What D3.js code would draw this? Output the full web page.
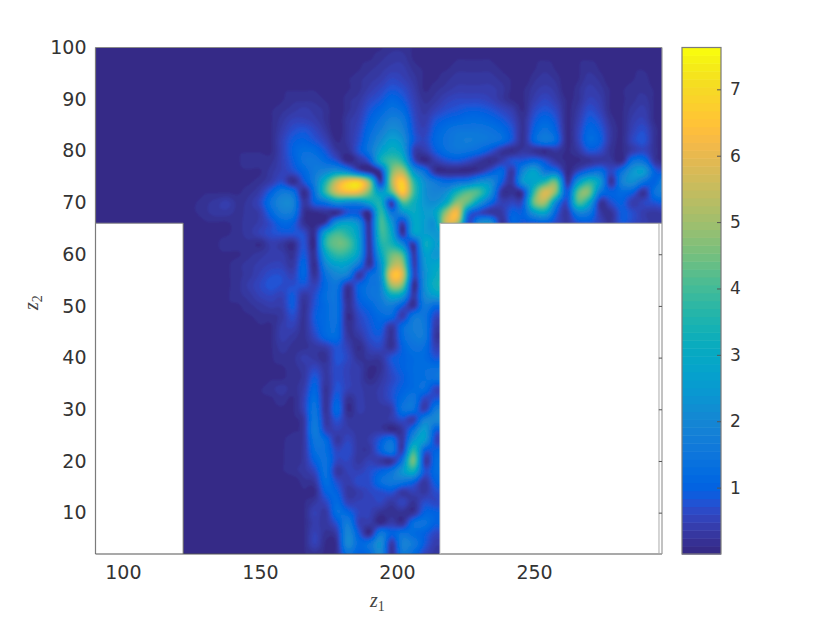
<!DOCTYPE html>
<html><head><meta charset="utf-8">
<script src="https://cdnjs.cloudflare.com/ajax/libs/d3/7.8.5/d3.min.js"></script>
<style>html,body{margin:0;padding:0;background:#fff}svg{display:block}</style></head>
<body><svg id="c" width="830" height="623"></svg>
<script>
// z1 grid starts at 90 with step 4; rows start at z1 = 122 (everything left of it is ~0)
const z1Start = 90, z1Step = 4, z1Lead = 8, z1Count = 53;
const z2Start = 100, z2Step = 2;
const xTicks = [100,150,200,250];
const yTicks = [10,20,30,40,50,60,70,80,90,100];
const cbTicks = [1,2,3,4,5,6,7];
const holeLeft = [90,122], holeRight = [215.7,295.6], holeTop = 66, z2Min = 2, z1Max = 296.7, cMax = 7.63;
// values in tenths, z2 = 100, 98, ... 2
const upperRows = [
[0,0,0,0,0,0,0,0,0,0,0,0,0,0,0,0,0,1,1,2,2,1,0,0,0,0,0,0,0,0,0,0,0,1,1,0,0,1,1,0,0,1,1,0,0],
[0,0,0,0,0,0,0,0,0,0,0,0,0,0,0,0,1,1,2,3,3,1,0,0,0,1,1,1,1,0,0,0,1,1,1,0,1,1,1,0,0,1,1,0,0],
[0,0,0,0,0,0,0,0,0,0,0,0,0,0,0,0,1,2,3,4,4,2,1,1,1,2,2,2,2,1,0,0,1,2,1,0,1,2,1,0,0,1,1,0,0],
[0,0,0,0,0,0,0,0,0,0,0,0,0,0,0,1,2,3,4,6,5,3,1,1,2,3,3,3,3,2,1,0,2,3,2,0,1,3,2,0,0,1,2,0,0],
[0,0,0,0,0,0,0,0,0,1,1,1,1,0,0,1,2,4,6,8,7,4,1,2,3,4,4,4,4,3,1,1,3,4,3,0,2,4,3,1,1,2,2,1,0],
[0,0,0,0,0,0,0,0,0,1,2,2,2,1,0,2,3,6,8,11,9,5,2,3,5,6,6,6,5,3,1,1,4,6,4,1,2,5,4,1,1,2,3,1,0],
[0,0,0,0,0,0,0,0,1,2,3,4,3,2,0,2,4,8,11,14,12,6,3,5,7,8,9,9,8,6,4,1,6,8,6,1,3,7,5,1,1,3,4,1,0],
[0,0,0,0,0,0,0,0,1,3,5,5,4,2,0,3,5,10,14,18,16,7,4,8,10,11,12,12,11,9,6,2,8,11,8,1,4,9,7,2,1,4,5,1,0],
[0,0,0,0,0,0,0,0,1,4,7,8,6,3,0,3,6,12,17,22,19,8,5,10,13,15,15,15,14,12,8,2,10,14,10,1,5,11,9,3,1,5,7,2,0],
[0,0,0,0,0,0,0,0,1,5,9,10,8,5,1,3,7,14,21,27,23,9,6,11,14,16,17,16,15,13,8,2,11,16,12,1,5,12,10,3,1,6,8,2,0],
[0,0,0,0,0,1,1,1,1,5,10,13,12,8,3,2,8,15,26,32,27,5,4,9,13,15,14,12,8,3,1,3,2,1,3,1,3,8,7,2,1,4,6,2,0],
[0,0,0,0,0,1,2,2,2,5,9,14,15,12,8,1,3,8,30,40,36,8,1,4,7,8,6,3,1,4,8,9,12,8,3,1,1,2,3,3,1,14,14,3,1],
[0,0,0,0,0,1,1,1,3,5,7,11,16,20,24,20,8,1,3,45,52,25,14,2,1,1,1,3,8,12,3,20,28,16,14,1,6,12,14,6,14,24,26,10,8],
[0,0,0,0,0,1,1,2,4,7,1,8,17,35,55,66,68,48,3,50,67,38,22,16,12,14,16,22,22,10,3,24,28,36,44,2,24,36,26,2,18,22,14,10,20],
[0,0,1,1,1,1,2,4,10,16,14,1,14,38,56,62,60,44,25,40,66,40,23,19,22,34,42,40,24,3,2,4,38,58,46,8,42,46,16,10,12,10,2,14,18],
[0,1,2,3,4,2,3,6,14,20,19,3,10,14,22,20,20,28,34,3,40,33,24,22,30,48,42,25,12,5,6,8,44,50,20,6,40,30,3,7,10,4,6,8,10],
[0,1,2,3,3,2,3,4,11,17,16,2,1,2,1,8,8,1,38,15,22,30,26,28,50,62,14,6,3,3,10,10,24,28,10,3,18,16,4,2,9,7,4,3,4],
[0,0,1,1,1,2,3,4,7,11,10,2,1,4,24,28,22,2,40,25,4,28,26,24,55,50,6,20,22,2,10,8,8,9,6,3,7,8,5,2,8,6,4,3,3]
];
const lowerRows = [
[0,0,1,1,1,2,3,5,7,8,8,7,2,30,40,36,26,2,38,30,2,26,26,24,24],
[0,0,1,1,2,2,2,1,4,3,1,8,1,36,44,42,28,2,34,34,20,3,30,26,26],
[0,0,0,1,1,1,2,3,4,4,2,9,2,28,38,36,26,2,28,44,40,3,26,24,24],
[0,0,0,1,1,2,3,4,5,5,3,11,1,20,27,26,16,2,22,50,50,4,24,28,28],
[0,0,0,1,1,2,3,5,7,7,5,11,2,14,20,18,3,12,20,62,58,6,22,30,30],
[0,0,0,1,1,2,4,6,8,7,7,8,5,12,15,3,10,14,18,50,46,1,22,32,32],
[0,0,0,0,1,2,3,5,6,5,9,3,7,13,14,1,10,14,17,30,26,3,20,26,26],
[0,0,0,0,1,1,2,3,4,4,9,2,8,12,14,2,8,11,15,17,9,2,16,12,12],
[0,0,0,0,0,1,1,2,2,3,7,2,9,12,14,1,6,9,12,12,4,15,15,6,6],
[0,0,0,0,1,1,0,1,1,4,5,2,8,12,13,2,5,8,10,3,12,17,16,4,4],
[0,0,0,1,1,1,0,0,1,4,3,2,6,11,12,3,3,7,8,2,12,16,16,3,3],
[0,0,0,1,1,1,0,0,1,3,2,2,3,4,8,5,1,5,6,2,10,14,13,5,5],
[0,0,0,1,1,1,0,0,1,2,2,4,3,2,8,6,2,3,3,8,10,12,12,8,8],
[0,0,0,1,1,1,0,0,1,1,2,3,6,3,7,5,4,1,2,7,10,12,13,13,13],
[0,0,1,1,1,1,0,0,1,1,2,3,9,3,7,5,4,1,3,6,9,12,13,14,14],
[0,0,1,1,1,1,0,1,2,3,2,4,11,2,8,5,4,3,4,7,10,12,13,6,6],
[0,0,1,1,1,1,1,1,1,2,1,5,13,2,10,2,4,3,4,7,12,15,6,8,8],
[0,0,1,1,1,0,1,1,1,1,1,5,15,2,12,1,4,3,3,4,14,14,4,16,16],
[0,0,1,1,1,0,1,1,1,1,1,3,16,3,8,3,3,3,3,4,7,4,18,20,20],
[0,0,0,1,1,0,0,1,1,1,1,3,17,5,5,4,3,3,3,1,3,14,26,10,10],
[0,0,0,1,1,0,0,0,1,1,2,3,15,12,3,6,3,4,9,14,3,24,26,6,6],
[0,0,0,1,1,0,0,0,0,1,2,3,13,13,6,7,3,3,10,16,4,38,10,10,10],
[0,0,0,0,1,0,0,0,0,1,2,3,10,14,6,6,3,5,3,2,15,46,4,12,12],
[0,0,0,0,0,0,0,0,0,1,2,3,6,14,3,5,5,7,10,14,24,32,8,12,12],
[0,0,0,0,0,0,0,0,0,0,0,2,3,13,7,4,7,7,13,16,15,11,3,10,10],
[0,0,0,0,0,0,0,0,0,0,0,1,1,10,10,3,4,6,7,8,3,5,3,7,7],
[0,0,0,0,0,0,0,0,0,0,0,1,3,6,12,5,5,5,6,3,6,2,7,6,6],
[0,0,0,0,0,0,0,0,0,0,0,1,5,3,13,11,6,5,2,2,2,2,10,10,8],
[0,0,0,0,0,0,0,0,0,0,0,1,4,3,8,17,5,4,1,4,2,13,14,10,10],
[0,0,0,0,0,0,0,0,0,0,0,1,5,2,4,20,9,1,16,10,14,12,10,6,6],
[0,0,0,0,0,0,0,0,0,0,0,1,5,1,2,21,12,14,22,3,18,16,9,4,4],
[0,0,0,0,0,0,0,0,0,0,0,1,2,1,2,14,10,12,20,2,16,12,6,3,3]
];
const parula = [[.2081,.1663,.5292],[.2116,.1898,.5777],[.2123,.2138,.6270],[.2081,.2386,.6771],[.1959,.2645,.7279],[.1707,.2919,.7792],[.1253,.3242,.8303],[.0591,.3598,.8683],[.0117,.3875,.8820],[.0060,.4086,.8828],[.0165,.4266,.8786],[.0329,.4430,.8720],[.0498,.4586,.8641],[.0629,.4737,.8554],[.0723,.4887,.8467],[.0779,.5040,.8384],[.0793,.5200,.8312],[.0749,.5375,.8263],[.0641,.5570,.8240],[.0488,.5772,.8228],[.0343,.5966,.8199],[.0265,.6137,.8135],[.0239,.6287,.8038],[.0231,.6418,.7913],[.0228,.6535,.7768],[.0267,.6642,.7607],[.0384,.6743,.7436],[.0590,.6838,.7254],[.0843,.6928,.7062],[.1133,.7015,.6859],[.1453,.7098,.6646],[.1801,.7177,.6424],[.2178,.7250,.6193],[.2586,.7317,.5954],[.3022,.7376,.5712],[.3482,.7424,.5473],[.3953,.7459,.5244],[.4420,.7481,.5033],[.4871,.7491,.4840],[.5300,.7491,.4661],[.5709,.7485,.4494],[.6099,.7473,.4337],[.6473,.7456,.4188],[.6834,.7435,.4044],[.7184,.7411,.3905],[.7525,.7384,.3768],[.7858,.7356,.3633],[.8185,.7327,.3498],[.8507,.7299,.3360],[.8824,.7274,.3217],[.9139,.7258,.3063],[.9450,.7261,.2886],[.9739,.7314,.2666],[.9938,.7455,.2403],[.9990,.7653,.2164],[.9955,.7861,.1967],[.9880,.8066,.1794],[.9789,.8271,.1633],[.9697,.8481,.1475],[.9626,.8705,.1309],[.9589,.8949,.1132],[.9598,.9218,.0948],[.9661,.9514,.0755],[.9763,.9831,.0538]];
const colors = parula.map(c => d3.rgb(c[0]*255,c[1]*255,c[2]*255).formatHex());

const svg = d3.select('#c');
const x = d3.scaleLinear().domain([90,z1Max]).range([95.5,662]);
const y = d3.scaleLinear().domain([z2Min,100]).range([554,47.5]);
const cY = d3.scaleLinear().domain([0,cMax]).range([554,47.5]);
const cBand = d3.scaleQuantize().domain([0,cMax]).range(colors);

const allRows = upperRows.concat(lowerRows);
const nRows = allRows.length;
const grid = allRows.map(r => d3.range(z1Count).map(i => { const k = i - z1Lead; return k >= 0 && k < r.length ? r[k]/10 : 0; }));

// smooth shading between the grid nodes (Catmull-Rom), only for drawing
const up = 4;
const cr = (a,b,c,d,t) => b + .5*t*(c-a + t*(2*a-5*b+4*c-d + t*(3*(b-c)+d-a)));
const at = (r,c) => grid[Math.max(0,Math.min(nRows-1,r))][Math.max(0,Math.min(z1Count-1,c))];
const W = (z1Count-1)*up+1, H = (nRows-1)*up+1;
const field = new Float64Array(W*H);
for (let j=0;j<H;j++) for (let i=0;i<W;i++) {
  const r0=Math.floor(j/up), c0=Math.floor(i/up), tr=j/up-r0, tc=i/up-c0;
  const col=[-1,0,1,2].map(dr=>cr(at(r0+dr,c0-1),at(r0+dr,c0),at(r0+dr,c0+1),at(r0+dr,c0+2),tc));
  field[j*W+i]=Math.max(0,cr(col[0],col[1],col[2],col[3],tr));
}
const thresholds = d3.range(1,64).map(i => i*cMax/64);
const contours = d3.contours().size([W,H]).thresholds(thresholds).smooth(true)(field);
const proj = d3.geoTransform({point(cx,cy){ this.stream.point(x(z1Start+(cx-.5)/up*z1Step), y(z2Start-(cy-.5)/up*z2Step)); }});
const path = d3.geoPath(proj);

const defs = svg.append('defs');
defs.append('filter').attr('id','soft').attr('x','-2%').attr('y','-2%').attr('width','104%').attr('height','104%')
  .append('feGaussianBlur').attr('stdDeviation',0.8);
const clipPts = [[90,100],[z1Max,100],[z1Max,holeTop],[holeRight[0],holeTop],[holeRight[0],z2Min],[holeLeft[1],z2Min],[holeLeft[1],holeTop],[90,holeTop]];
defs.append('clipPath').attr('id','plotClip').append('polygon')
  .attr('points',clipPts.map(p=>[x(p[0]),y(p[1])].join(',')).join(' '));

const clipG = svg.append('g').attr('clip-path','url(#plotClip)');
const g = clipG.append('g').attr('filter','url(#soft)');
g.append('path').attr('d',path({type:'Polygon',coordinates:[[[-9,-9],[W+9,-9],[W+9,H+9],[-9,H+9],[-9,-9]]]})).attr('fill',colors[0]);
g.selectAll('path.c').data(contours).join('path').attr('class','c').attr('d',path)
  .attr('fill',d => colors[Math.min(63,Math.round(d.value/cMax*64))]);

// frame
const line = (x1,y1,x2,y2,col,w) => svg.append('line').attr('x1',x1).attr('y1',y1).attr('x2',x2).attr('y2',y2).attr('stroke',col).attr('stroke-width',w||1);
const gray = '#7b7b7b';
line(x(90),y(100),x(z1Max),y(100),'#8a8a8a');
line(x(90),y(100),x(90),y(z2Min),gray,1.2);
line(x(90),y(z2Min),x(z1Max),y(z2Min),'#555',1.2);
line(x(z1Max),y(100),x(z1Max),y(z2Min),'#999',1.2);
line(x(holeRight[1]),y(holeTop),x(holeRight[1]),y(z2Min),'#aaa',1);
line(x(90),y(holeTop),x(holeLeft[1]),y(holeTop),'#888');
line(x(holeLeft[1]),y(holeTop),x(holeLeft[1]),y(z2Min),'#666');
line(x(holeRight[0]),y(holeTop),x(z1Max),y(holeTop),'#999');
line(x(holeRight[0]),y(holeTop),x(holeRight[0]),y(z2Min),'#ccc');

const font = 'DejaVu Sans';
const style = (sel,size) => { sel.selectAll('text').attr('font-family',font).attr('font-size',size).attr('fill','#333'); sel.select('.domain').remove(); };
svg.append('g').attr('transform',`translate(0,${y(z2Min)})`)
  .call(d3.axisBottom(x).tickValues(xTicks).tickSize(0).tickPadding(12)).call(s=>style(s,19)).selectAll('line').remove();
svg.append('g').attr('transform',`translate(${x(90)},0)`)
  .call(d3.axisLeft(y).tickValues(yTicks).tickSize(0).tickPadding(9)).call(s=>style(s,19)).selectAll('line').remove();
svg.append('g').attr('transform',`translate(${x(z1Max)},0)`)
  .call(d3.axisRight(y).tickValues(yTicks.filter(v=>v<holeTop)).tickSize(-3.2).tickFormat(''))
  .call(s=>s.select('.domain').remove()).selectAll('line').attr('stroke','#555');

// colour bar
const cb = svg.append('g');
cb.selectAll('rect').data(colors).join('rect')
  .attr('x',682).attr('width',39)
  .attr('y',(d,i)=>cY((i+1)*cMax/64)).attr('height',(d,i)=>cY(i*cMax/64)-cY((i+1)*cMax/64)+.5)
  .attr('fill',(d,i)=>cBand((i+.5)*cMax/64));
cb.append('rect').attr('x',682).attr('y',47.5).attr('width',39).attr('height',506.5).attr('fill','none').attr('stroke','#7b7b7b').attr('stroke-width',1.2);
const cax = svg.append('g').attr('transform','translate(721,0)')
  .call(d3.axisRight(cY).tickValues(cbTicks).tickSize(-4).tickPadding(9).tickFormat(d3.format('d')));
cax.select('.domain').remove();
cax.selectAll('line').attr('stroke','#555');
cax.selectAll('text').attr('x',9).attr('font-family',font).attr('font-size',17).attr('fill','#333');

// axis titles
const tt = svg.append('text').attr('x',370).attr('y',607).attr('font-family','Liberation Serif').attr('font-size',20).attr('fill','#444');
tt.append('tspan').attr('font-style','italic').text('z');
tt.append('tspan').attr('dy',4).attr('font-size',14).text('1');
const ty = svg.append('text').attr('transform','translate(38,310) rotate(-90)').attr('font-family','Liberation Serif').attr('font-size',20).attr('fill','#444');
ty.append('tspan').attr('font-style','italic').text('z');
ty.append('tspan').attr('dy',4).attr('font-size',14).text('2');
</script></body></html>
